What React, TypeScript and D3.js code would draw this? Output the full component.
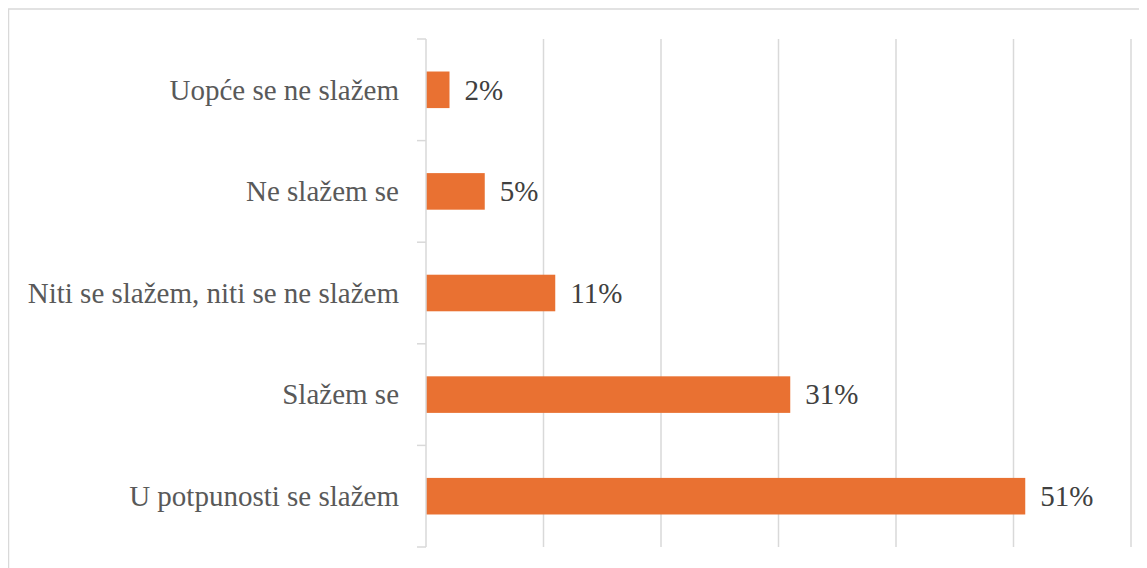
import React from "react";
import * as d3 from "d3";

const categories = [
  "Uopće se ne slažem",
  "Ne slažem se",
  "Niti se slažem, niti se ne slažem",
  "Slažem se",
  "U potpunosti se slažem",
];
const values = [2, 5, 11, 31, 51];
const xTicks = [0, 10, 20, 30, 40, 50, 60];

const W = 1139;
const H = 560;
const left = 418;
const right = 1123;
const top = 31;
const bottom = 539;

export default function App() {
  const x = d3.scaleLinear().domain([0, 60]).range([left, right]);
  const y = d3.scaleBand<string>().domain(categories).range([top, bottom]).paddingInner(0.64).paddingOuter(0.32);
  const band = (bottom - top) / categories.length;
  const bounds = d3.range(categories.length + 1).map((i) => top + i * band);
  const font = "'Liberation Serif', 'Times New Roman', Tinos, serif";
  return (
    <svg width={W} height={H} style={{ display: "block" }}>
      <rect x={0.5} y={1} width={W + 10} height={H + 10} fill="#fff" stroke="#d9d9d9" strokeWidth={1.5} />
      {xTicks.slice(1).map((t) => (
        <line key={t} x1={x(t)} x2={x(t)} y1={top} y2={bottom} stroke="#d9d9d9" strokeWidth={1.5} />
      ))}
      {categories.map((c, i) => (
        <rect key={c} x={x(0)} y={y(c)} width={x(values[i]) - x(0)} height={y.bandwidth()} fill="#E97132" />
      ))}
      <line x1={x(0)} x2={x(0)} y1={top} y2={bottom} stroke="#d9d9d9" strokeWidth={1.5} />
      {bounds.map((b, i) => (
        <line key={i} x1={x(0) - 9} x2={x(0)} y1={b} y2={b} stroke="#d9d9d9" strokeWidth={1.5} />
      ))}
      {categories.map((c) => (
        <text key={c} x={x(0) - 27} y={(y(c) as number) + y.bandwidth() / 2} dy="0.34em" textAnchor="end" style={{ fontFamily: font }} fontSize={29} fill="#595959">
          {c}
        </text>
      ))}
      {categories.map((c, i) => (
        <text key={c} x={x(values[i]) + 15} y={(y(c) as number) + y.bandwidth() / 2} dy="0.34em" textAnchor="start" style={{ fontFamily: font }} fontSize={29} fill="#404040">
          {values[i]}%
        </text>
      ))}
    </svg>
  );
}
